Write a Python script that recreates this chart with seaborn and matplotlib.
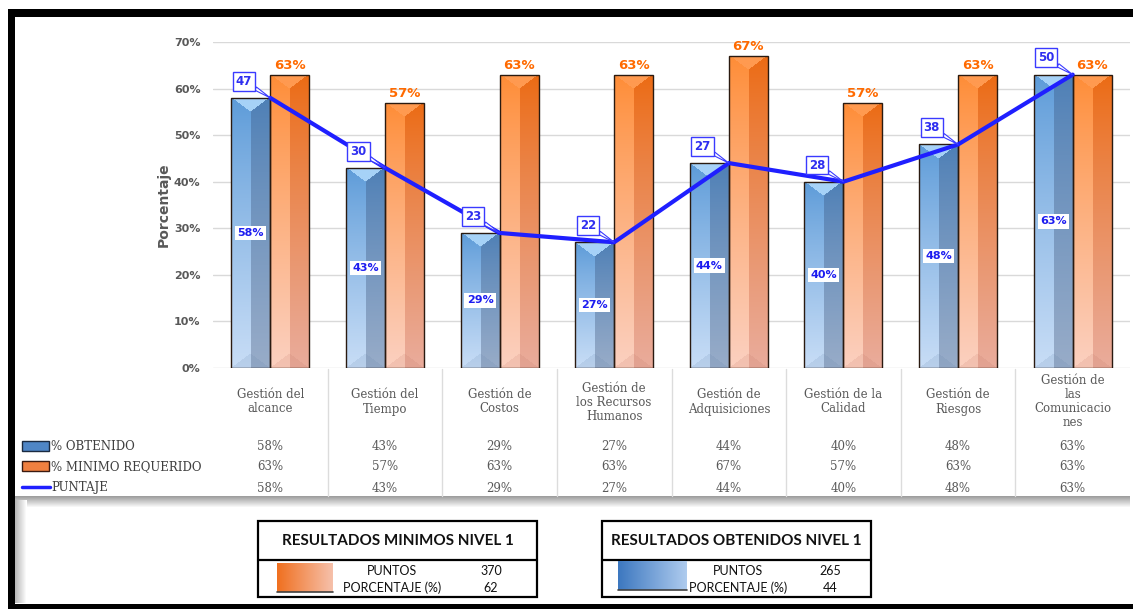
import numpy as np
import pandas as pd
import matplotlib
matplotlib.use("Agg")
import matplotlib.pyplot as plt
import seaborn as sns
from matplotlib.patches import Rectangle
from matplotlib.lines import Line2D
from matplotlib.transforms import blended_transform_factory

# ---------------- data ----------------
categorias = ["Gestión del\nalcance", "Gestión del\nTiempo", "Gestión de\nCostos",
              "Gestión de\nlos Recursos\nHumanos", "Gestión de\nAdquisiciones",
              "Gestión de la\nCalidad", "Gestión de\nRiesgos",
              "Gestión de\nlas\nComunicacio\nnes"]
obtenido = [58, 43, 29, 27, 44, 40, 48, 63]
minimo_requerido = [63, 57, 63, 63, 67, 57, 63, 63]
puntaje_pct = [58, 43, 29, 27, 44, 40, 48, 63]
puntaje_pts = [47, 30, 23, 22, 27, 28, 38, 50]
series = ["% OBTENIDO", "% MINIMO REQUERIDO", "PUNTAJE"]
y_ticks = [0, 10, 20, 30, 40, 50, 60, 70]
res_min = {"titulo": "RESULTADOS MINIMOS NIVEL 1", "puntos": 370, "porcentaje": 62}
res_obt = {"titulo": "RESULTADOS OBTENIDOS NIVEL 1", "puntos": 265, "porcentaje": 44}

# ---------------- figure ----------------
W, H = 1133, 609
sns.set_theme(style="white")
plt.rcParams["font.family"] = ["DejaVu Sans"]
fig = plt.figure(figsize=(W / 100, H / 100), dpi=100)
fig.patch.set_facecolor("white")

bg = fig.add_axes([0, 0, 1, 1], zorder=0)
bg.set_xlim(0, W)
bg.set_ylim(H, 0)
bg.axis("off")

ax_l, ax_r, ax_t, ax_b = 213, 1130, 42, 368
ax = fig.add_axes([ax_l / W, (H - ax_b) / H, (ax_r - ax_l) / W, (ax_b - ax_t) / H], zorder=2)
ax.patch.set_alpha(0)

df = pd.DataFrame({
    "cat": categorias * 2,
    "serie": [series[0]] * 8 + [series[1]] * 8,
    "valor": [v / 100 for v in obtenido] + [v / 100 for v in minimo_requerido],
})
sns.barplot(data=df, x="cat", y="valor", hue="serie", palette=["#5b8fcf", "#f47b20"],
            width=0.68, legend=False, ax=ax, edgecolor="#2a1a10", linewidth=1.0)

ax.set_ylim(0, 0.70)
ax.set_xlim(-0.5, 7.5)
ax.set_yticks([t / 100 for t in y_ticks])
ax.set_yticklabels([f"{t}%" for t in y_ticks], fontsize=8, fontweight="bold", color="#595959")
ax.tick_params(axis="y", length=0, pad=9)
ax.tick_params(axis="x", length=0, labelbottom=False)
ax.set_xlabel("")
ax.set_ylabel("Porcentaje", fontsize=10, fontweight="bold", color="#595959", labelpad=2)
ax.yaxis.grid(True, color="#d9d9d9", lw=1)
ax.xaxis.grid(False)
ax.set_axisbelow(True)
for s in ax.spines.values():
    s.set_visible(False)

px_per_x = (ax_r - ax_l) / 8.0
px_per_y = (ax_b - ax_t) / 0.70


def lerp(a, b, t):
    a = np.array(a); b = np.array(b)
    return a[None, None, :] * (1 - t[..., None]) + b[None, None, :] * t[..., None]


def bar_image(wpx, hpx, ltop, lbot, rtop, rbot, tri_top, tri_bot):
    hpx = max(int(round(hpx)), 2)
    wpx = max(int(round(wpx)), 2)
    rows = np.arange(hpx)[:, None] * np.ones((1, wpx))
    cols = np.ones((hpx, 1)) * np.arange(wpx)[None, :]
    t = (rows / (hpx - 1)) ** 0.85
    left = lerp(ltop, lbot, t)
    right = lerp(rtop, rbot, t)
    img = np.where((cols < wpx / 2)[..., None], left, right)
    d = min(14, hpx / 2)
    prof = d * (1 - np.abs(2 * cols / (wpx - 1) - 1))
    topmask = rows < prof
    img[topmask] = np.array(tri_top)
    botmask = (hpx - 1 - rows) < prof
    img[botmask] = img[botmask] * 0.85 + np.array(tri_bot) * 0.15
    return np.clip(img, 0, 1)


def hexrgb(h):
    return tuple(int(h[i:i + 2], 16) / 255 for i in (1, 3, 5))


styles = [
    dict(ltop=hexrgb("#5b9ad8"), lbot=hexrgb("#c8ddf6"), rtop=hexrgb("#4d7fb6"),
         rbot=hexrgb("#98acc8"), tri_top=hexrgb("#a6d2f7"), tri_bot=hexrgb("#6080a8")),
    dict(ltop=hexrgb("#ff8c35"), lbot=hexrgb("#fbd0c0"), rtop=hexrgb("#ec6a12"),
         rbot=hexrgb("#e9ac9c"), tri_top=hexrgb("#ff9a50"), tri_bot=hexrgb("#c07060")),
]

for k, cont in enumerate(ax.containers):
    for p in cont.patches:
        x0, w, h = p.get_x(), p.get_width(), p.get_height()
        img = bar_image(w * px_per_x, h * px_per_y, **styles[k])
        im = ax.imshow(img, extent=(x0, x0 + w, 0, h), origin="upper", aspect="auto",
                       zorder=2, interpolation="bilinear")
        im.set_clip_path(p)
        p.set_facecolor("none")
        p.set_zorder(3)

ax.set_ylim(0, 0.70)
ax.set_xlim(-0.5, 7.5)

# value labels
for p, v in zip(ax.containers[0].patches, obtenido):
    ax.text(p.get_x() + p.get_width() / 2, p.get_height() / 2, f"{v}%", ha="center",
            va="center", fontsize=8, fontweight="heavy", color="#1c1cf0", zorder=6,
            bbox=dict(boxstyle="square,pad=0.2", fc="white", ec="none"))
for p, v in zip(ax.containers[1].patches, minimo_requerido):
    ax.text(p.get_x() + p.get_width() / 2, p.get_height() + 0.006, f"{v}%", ha="center",
            va="bottom", fontsize=9.5, fontweight="heavy", color="#ff6a00", zorder=6)

# puntaje line
xs = np.arange(len(puntaje_pct))
sns.lineplot(x=xs, y=[v / 100 for v in puntaje_pct], color="#1f1fff", lw=3, ax=ax,
             sort=False, zorder=5)
for xi, v, pts in zip(xs, puntaje_pct, puntaje_pts):
    ax.annotate(str(pts), xy=(xi, v / 100), xytext=(-19, 12), textcoords="offset points",
                ha="center", va="center", fontsize=8.5, fontweight="bold", color="#2f2ff0",
                zorder=7,
                bbox=dict(boxstyle="square,pad=0.25", fc="white", ec="#3a3aff", lw=1),
                arrowprops=dict(arrowstyle="wedge,tail_width=0.3", fc="white", ec="#3a3aff",
                                lw=0.8, shrinkA=0, shrinkB=0))

# ---------------- data table ----------------
trans = blended_transform_factory(ax.transData, bg.transData)
serif = "DejaVu Serif"
for i, c in enumerate(categorias):
    bg.text(i, 402, c, transform=trans, ha="center", va="center", fontsize=8.5,
            family=serif, color="#595959", linespacing=1.1)
rows_y = [447, 467, 488]
for vals, y in zip([obtenido, minimo_requerido, puntaje_pct], rows_y):
    for i, v in enumerate(vals):
        bg.text(i, y, f"{v}%", transform=trans, ha="center", va="center", fontsize=8.5,
                family=serif, color="#595959")
for i in range(7):
    bg.add_line(Line2D([i + 0.5, i + 0.5], [369, 496], transform=trans, color="#dcdcdc", lw=1))

# legend keys
bg.add_patch(Rectangle((22, 441), 27, 10, fc="#4f86c6", ec="#1a2a40", lw=1))
bg.add_patch(Rectangle((22, 461), 27, 10, fc="#f08040", ec="#3a1a10", lw=1))
bg.add_line(Line2D([22, 50], [487, 487], color="#1f1fff", lw=2.5))
for name, y in zip(series, rows_y):
    bg.text(51, y, name, ha="left", va="center", fontsize=8.5, family=serif, color="#404040")

# shadows
hs = np.linspace(0.62, 1.0, 12)[:, None] * np.ones((1, 2))
bg.imshow(np.dstack([hs] * 3), extent=(15, 1130, 508, 496), aspect="auto", zorder=1,
          interpolation="bilinear")
vs = np.ones((2, 1)) * np.linspace(0.72, 1.0, 10)[None, :]
bg.imshow(np.dstack([vs] * 3), extent=(15, 27, 603, 500), aspect="auto", zorder=1,
          interpolation="bilinear")

# frame
bg.add_patch(Rectangle((8, 9), W - 8, 8, fc="black", ec="none", zorder=4))
bg.add_patch(Rectangle((8, 9), 7, H - 9, fc="black", ec="none", zorder=4))
bg.add_patch(Rectangle((8, 604), W - 8, 6, fc="black", ec="none", zorder=4))
bg.set_xlim(0, W)
bg.set_ylim(H, 0)

# ---------------- summary boxes ----------------
def summary_box(x0, x1, info, swatch, sw_cols, cx_lab, cx_val):
    bg.add_patch(Rectangle((x0, 521), x1 - x0, 76, fc="white", ec="black", lw=1.6, zorder=3))
    bg.add_line(Line2D([x0, x1], [560, 560], color="black", lw=1.6, zorder=4))
    bg.text((x0 + x1) / 2, 541, info["titulo"], ha="center", va="center", fontsize=11,
            fontweight="bold", family="Lato", color="#111111", zorder=5)
    g = np.linspace(0, 1, 50)[None, :] * np.ones((10, 1))
    c0, c1 = np.array(hexrgb(sw_cols[0])), np.array(hexrgb(sw_cols[1]))
    img = c0[None, None, :] * (1 - g[..., None]) + c1[None, None, :] * g[..., None]
    bg.imshow(img, extent=(swatch[0], swatch[1], swatch[3], swatch[2]), aspect="auto",
              zorder=5, interpolation="bilinear")
    bg.add_line(Line2D([swatch[0], swatch[1]], [swatch[3], swatch[3]], color="#404040",
                       lw=1.2, zorder=6))
    bg.text(cx_lab, 571, "PUNTOS", ha="center", va="center", fontsize=9, family="Lato",
            color="#111111", zorder=5)
    bg.text(cx_lab, 588, "PORCENTAJE (%)", ha="center", va="center", fontsize=9,
            family="Lato", color="#111111", zorder=5)
    bg.text(cx_val, 571, str(info["puntos"]), ha="center", va="center", fontsize=9,
            family="Lato", color="#111111", zorder=5)
    bg.text(cx_val, 588, str(info["porcentaje"]), ha="center", va="center", fontsize=9,
            family="Lato", color="#111111", zorder=5)


summary_box(258, 537, res_min, (277, 333, 563, 592), ("#f07020", "#f6c0aa"), 392, 491)
summary_box(602, 871, res_obt, (618, 687, 561, 590), ("#3d78c0", "#aecbee"), 738, 830)
bg.set_xlim(0, W)
bg.set_ylim(H, 0)

fig.savefig("out.png", dpi=100, facecolor="white")
